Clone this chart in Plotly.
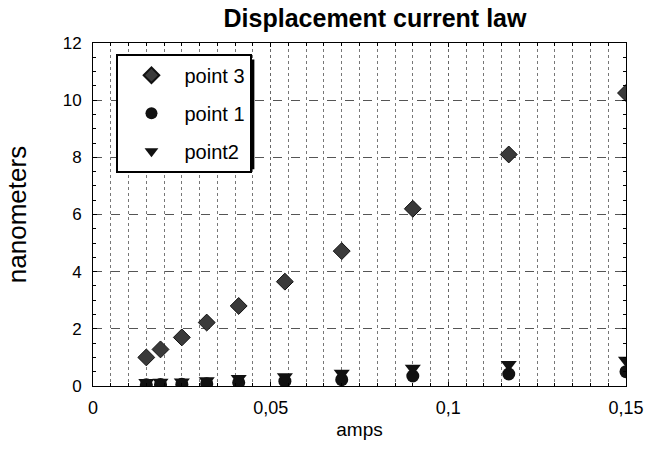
import plotly.graph_objects as go

amps = [0.015, 0.019, 0.025, 0.032, 0.041, 0.054, 0.07, 0.09, 0.117, 0.15]
point3 = [1.0, 1.28, 1.7, 2.22, 2.8, 3.65, 4.72, 6.2, 8.1, 10.25]
point1 = [0.04, 0.05, 0.06, 0.08, 0.12, 0.17, 0.22, 0.35, 0.42, 0.5]
point2 = [0.12, 0.13, 0.14, 0.18, 0.26, 0.32, 0.45, 0.62, 0.75, 0.9]

font_family = "Liberation Sans, Arial, sans-serif"

fig = go.Figure()
fig.add_trace(go.Scatter(x=amps, y=point3, mode="markers", name="point 3", legendgroup="g3",
                         marker=dict(symbol="diamond", size=13, color="#3a3a3a",
                                     line=dict(color="#111", width=1))))
fig.add_trace(go.Scatter(x=amps, y=point1, mode="markers", name="point 1", legendgroup="g1",
                         marker=dict(symbol="circle", size=13, color="#111")))
fig.add_trace(go.Scatter(x=amps, y=point2, mode="markers", name="point2", legendgroup="g2",
                         marker=dict(symbol="triangle-down", size=14, color="#111")))

L, R, T, B = 93, 18, 43, 53
W, H = 656, 449
pw, ph = W - L - R, H - T - B

def px_x(p):
    return (p - L) / pw

def px_y(p):
    return (H - B - p) / ph

fig.update_layout(
    width=W, height=H,
    margin=dict(l=L, r=R, t=T, b=B),
    paper_bgcolor="white", plot_bgcolor="white",
    separators=", ",
    font=dict(family=font_family, color="black", size=16),
    title=dict(text="<b>Displacement current law</b>", x=375 / W, xanchor="center",
               y=1 - 18 / H, yanchor="middle", font=dict(size=25)),
    showlegend=True,
    legend=dict(x=px_x(117), y=px_y(54), xanchor="left", yanchor="top",
                bgcolor="white", bordercolor="black", borderwidth=2,
                font=dict(size=20), itemsizing="constant",
                tracegroupgap=9, itemwidth=56),
    shapes=[dict(type="rect", xref="paper", yref="paper",
                 x0=px_x(123), x1=px_x(258), y0=px_y(173), y1=px_y(60),
                 fillcolor="black", line=dict(width=0), layer="above")],
)

fig.update_xaxes(
    range=[0, 0.15], dtick=0.05, tick0=0,
    showline=True, linecolor="black", linewidth=1, mirror="ticks",
    showgrid=True, gridcolor="#666", griddash="dot", gridwidth=1,
    ticks="inside", ticklen=4, tickcolor="black",
    minor=dict(dtick=0.005, showgrid=True, gridcolor="#777", griddash="dot",
               gridwidth=1, ticks="inside", ticklen=3),
    zeroline=False,
    title=dict(text="amps", font=dict(size=19), standoff=6),
    tickfont=dict(size=18),
    ticklabelstandoff=5,
)
fig.update_yaxes(
    range=[0, 12], dtick=2, tick0=0,
    showline=True, linecolor="black", linewidth=1, mirror="ticks",
    showgrid=True, gridcolor="#555", griddash="dash", gridwidth=1,
    ticks="inside", ticklen=4, tickcolor="black",
    minor=dict(dtick=0.5, ticks="inside", ticklen=3, showgrid=False),
    zeroline=False,
    title=dict(text="nanometers", font=dict(size=26), standoff=28),
    tickfont=dict(size=17),
    ticklabelstandoff=7,
)

fig.write_html("out.html")
